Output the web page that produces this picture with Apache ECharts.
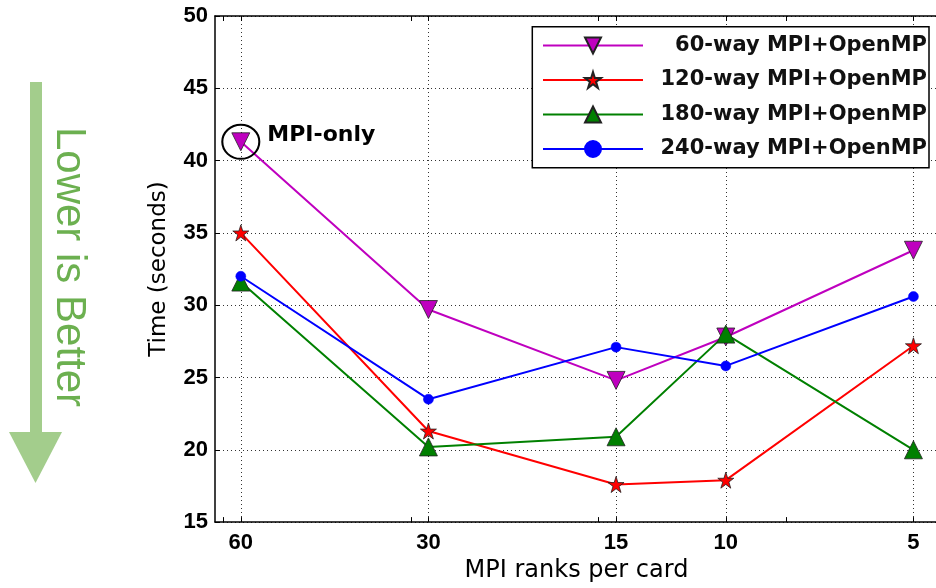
<!DOCTYPE html>
<html>
<head>
<meta charset="utf-8">
<script src="https://cdn.jsdelivr.net/npm/echarts@6/dist/echarts.min.js"></script>
<style>
html,body{margin:0;padding:0;background:#fff;}
#chart{width:936px;height:588px;}
</style>
</head>
<body>
<div id="chart"></div>
<script>
// ---- data ----
const ranks = [60, 30, 15, 10, 5];
const minorRanks = [64, 32, 16, 8];
const seriesNames = ['60-way MPI+OpenMP', '120-way MPI+OpenMP', '180-way MPI+OpenMP', '240-way MPI+OpenMP'];
const way60 = [41.3, 29.7, 24.8, 27.8, 33.8];
const way120 = [35.0, 21.3, 17.6, 17.9, 27.2];
const way180 = [31.6, 20.2, 20.9, 28.0, 20.0];
const way240 = [32.0, 23.5, 27.1, 25.8, 30.6];
const yMin = 15, yMax = 50, yStep = 5;
const xLow = 4.6, xHigh = 66;
const xTitle = 'MPI ranks per card';
const yTitle = 'Time (seconds)';
const noteText = 'MPI-only';
const sideText = 'Lower is Better';

const starPath = 'path://M50,2 L61.2,36.5 L97.6,36.5 L68.2,57.9 L79.4,92.5 L50,71.1 L20.6,92.5 L31.8,57.9 L2.4,36.5 L38.8,36.5 Z';

function pairs(vals) { return ranks.map((r, i) => [r, vals[i]]); }

const tickFont = { fontFamily: 'Liberation Sans', fontWeight: 'bold', fontSize: 22, color: '#000' };
const gridLine = { show: true, lineStyle: { color: '#333', width: 1, type: [1, 3] } };
const axisLine = { show: true, lineStyle: { color: '#000', width: 1.5 } };

function xAxisBase(extra) {
  return Object.assign({
    type: 'log', logBase: 2, inverse: true, min: xLow, max: xHigh,
    gridIndex: 0,
    axisLine: axisLine,
    splitLine: { show: false },
    axisLabel: { show: false },
    axisTick: { show: true, inside: true, length: 5, lineStyle: { color: '#000', width: 1 } }
  }, extra);
}

const chart = echarts.init(document.getElementById('chart'), null, { renderer: 'canvas' });
chart.setOption({
  animation: false,
  backgroundColor: '#fff',
  grid: { left: 215, top: 16, width: 725.6, height: 513.3, containLabel: false },
  xAxis: [
    xAxisBase({
      position: 'bottom',
      name: xTitle, nameLocation: 'middle', nameGap: 30,
      nameTextStyle: { fontFamily: 'DejaVu Sans', fontSize: 24, color: '#000', padding: [0, 0, 0, 2] },
      splitLine: gridLine,
      axisTick: { show: true, inside: true, length: 5, customValues: ranks, lineStyle: { color: '#000', width: 1 } },
      axisLabel: Object.assign({ show: true, margin: 10, customValues: ranks, formatter: v => String(Math.round(v)) }, tickFont)
    }),
    xAxisBase({
      position: 'bottom',
      axisLine: { show: false },
      axisTick: { show: true, inside: true, length: 5, customValues: minorRanks, lineStyle: { color: '#000', width: 1 } }
    }),
    xAxisBase({
      position: 'top',
      axisTick: { show: true, inside: true, length: 5, customValues: ranks.concat(minorRanks), lineStyle: { color: '#000', width: 1 } }
    })
  ],
  yAxis: {
    type: 'value', min: yMin, max: yMax, interval: yStep,
    name: yTitle, nameLocation: 'middle', nameGap: 44,
    nameTextStyle: { fontFamily: 'DejaVu Sans', fontSize: 23, color: '#000' },
    axisLine: axisLine,
    axisTick: { show: true, inside: true, length: 5, lineStyle: { color: '#000', width: 1 } },
    axisLabel: Object.assign({ margin: 7 }, tickFont),
    splitLine: gridLine
  },
  legend: {
    orient: 'vertical', left: 532, top: 27,
    padding: [8, 3, 11, 10],
    itemWidth: 100, itemHeight: 20, itemGap: 13.5,
    backgroundColor: 'transparent', borderWidth: 0,
    z: 5,
    data: seriesNames,
    formatter: n => '{t|' + n + '}',
    textStyle: {
      fontFamily: 'DejaVu Sans', fontWeight: 'bold', fontSize: 21, color: '#111',
      rich: { t: { width: 279, align: 'right', fontFamily: 'DejaVu Sans', fontWeight: 'bold', fontSize: 21, color: '#111' } }
    }
  },
  series: [
    {
      name: seriesNames[0], type: 'line', xAxisIndex: 0, data: pairs(way60),
      symbol: 'triangle', symbolRotate: 180, symbolSize: 18,
      itemStyle: { color: '#bf00bf', borderColor: '#222', borderWidth: 0.8 },
      lineStyle: { color: '#bf00bf', width: 2 },
      markPoint: {
        symbol: 'circle', symbolSize: [37, 34],
        itemStyle: { color: 'rgba(0,0,0,0)', borderColor: '#000', borderWidth: 2 },
        label: { show: true, position: 'right', distance: 7, offset: [0, -7], formatter: noteText,
                 fontFamily: 'DejaVu Sans', fontWeight: 'bold', fontSize: 22, color: '#000' },
        data: [{ coord: [ranks[0], way60[0]] }]
      }
    },
    {
      name: seriesNames[1], type: 'line', xAxisIndex: 0, data: pairs(way120),
      symbol: starPath, symbolSize: 16,
      itemStyle: { color: '#ff0000', borderColor: '#222', borderWidth: 0.8 },
      lineStyle: { color: '#ff0000', width: 2 }
    },
    {
      name: seriesNames[2], type: 'line', xAxisIndex: 0, data: pairs(way180),
      symbol: 'triangle', symbolSize: 18,
      itemStyle: { color: '#008000', borderColor: '#222', borderWidth: 0.8 },
      lineStyle: { color: '#008000', width: 2 }
    },
    {
      name: seriesNames[3], type: 'line', xAxisIndex: 0, data: pairs(way240),
      symbol: 'circle', symbolSize: 10,
      itemStyle: { color: '#0000ff', borderColor: '#0000ff', borderWidth: 0.5 },
      lineStyle: { color: '#0000ff', width: 2 }
    }
  ],
  graphic: [
    { type: 'rect', z: 3, shape: { x: 532.3, y: 26.7, width: 396.7, height: 141 },
      style: { fill: '#fff', stroke: '#000', lineWidth: 1.5 } },
    { type: 'rect', shape: { x: 30, y: 82, width: 12, height: 350 }, style: { fill: '#a3cd8c' } },
    { type: 'polygon', shape: { points: [[9, 432], [62, 432], [35.5, 483]] }, style: { fill: '#a3cd8c' } },
    { type: 'text', x: 69, y: 267, rotation: -Math.PI / 2,
      style: { text: sideText, fontFamily: 'Liberation Sans', fontSize: 42, fill: '#6cb050', align: 'center', verticalAlign: 'middle' } }
  ]
});
</script>
</body>
</html>
